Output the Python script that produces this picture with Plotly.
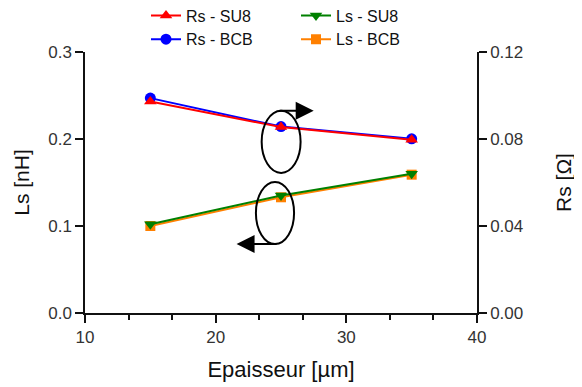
import plotly.graph_objects as go

thickness = [15, 25, 35]
rs_su8 = [0.0972, 0.0855, 0.0797]
rs_bcb = [0.0988, 0.0857, 0.0801]
ls_su8 = [0.102, 0.135, 0.160]
ls_bcb = [0.100, 0.133, 0.159]

x_ticks = [10, 20, 30, 40]
ls_ticks = [0.0, 0.1, 0.2, 0.3]
rs_ticks = [0.00, 0.04, 0.08, 0.12]

FONT = "Liberation Sans, Arial, sans-serif"

fig = go.Figure()
fig.add_trace(go.Scatter(x=thickness, y=rs_bcb, name="Rs - BCB", yaxis="y2",
                         mode="lines+markers", line=dict(color="#0000ff", width=2),
                         marker=dict(symbol="circle", size=11, color="#0000ff"),
                         legend="legend"))
fig.add_trace(go.Scatter(x=thickness, y=rs_su8, name="Rs - SU8", yaxis="y2",
                         mode="lines+markers", line=dict(color="#ff0000", width=2),
                         marker=dict(symbol="triangle-up", size=11, color="#ff0000"),
                         legend="legend"))
fig.add_trace(go.Scatter(x=thickness, y=ls_bcb, name="Ls - BCB",
                         mode="lines+markers", line=dict(color="#ff8000", width=2),
                         marker=dict(symbol="square", size=10, color="#ff8000"),
                         legend="legend2"))
fig.add_trace(go.Scatter(x=thickness, y=ls_su8, name="Ls - SU8",
                         mode="lines+markers", line=dict(color="#008000", width=2),
                         marker=dict(symbol="triangle-down", size=11, color="#008000"),
                         legend="legend2"))

# ellipses
fig.add_shape(type="circle", xref="x", yref="y", x0=23.52, x1=26.5, y0=0.161, y1=0.2325,
              line=dict(color="black", width=2))
fig.add_shape(type="circle", xref="x", yref="y", x0=23.08, x1=26.0, y0=0.0793, y1=0.1506,
              line=dict(color="black", width=2))

# arrows
fig.add_annotation(x=27.5, y=0.2325, ax=24.77, ay=0.2325, xref="x", yref="y",
                   axref="x", ayref="y", text="", showarrow=True, arrowhead=2,
                   arrowsize=1.8, arrowwidth=2, arrowcolor="black", standoff=0)
fig.add_annotation(x=21.6, y=0.0793, ax=24.77, ay=0.0793, xref="x", yref="y",
                   axref="x", ayref="y", text="", showarrow=True, arrowhead=2,
                   arrowsize=1.8, arrowwidth=2, arrowcolor="black", standoff=0)

axis_common = dict(showgrid=False, zeroline=False, showline=True, linecolor="#111",
                   linewidth=1.5, ticks="outside", tickcolor="#111", tickwidth=1.5,
                   ticklen=8, tickfont=dict(family=FONT, size=17, color="#333"))

fig.update_layout(
    width=582, height=387,
    margin=dict(l=77, r=113, t=44, b=82, autoexpand=False),
    paper_bgcolor="white", plot_bgcolor="white",
    font=dict(family=FONT, color="#111"),
    xaxis=dict(range=[10, 40], tickvals=x_ticks, ticktext=[str(v) for v in x_ticks],
               title=dict(text="Epaisseur [µm]", font=dict(family=FONT, size=22, color="#111"), standoff=15),
               minor=dict(dtick=10/3, tick0=10, ticks="outside", ticklen=5, tickwidth=1.5, tickcolor="#111"),
               **axis_common),
    yaxis=dict(range=[0, 0.3], tickvals=ls_ticks, ticktext=[f"{v:.1f}" for v in ls_ticks],
               title=dict(text="Ls [nH]", font=dict(family=FONT, size=21, color="#111"), standoff=13),
               **axis_common),
    yaxis2=dict(range=[0, 0.12], tickvals=rs_ticks, ticktext=[f"{v:.2f}" for v in rs_ticks],
                overlaying="y", side="right", anchor="x",
                title=dict(text="Rs [Ω]", font=dict(family=FONT, size=21, color="#111"), standoff=34),
                **axis_common),
    legend=dict(x=61/392, y=1.205, xanchor="left", yanchor="top",
                traceorder="reversed", font=dict(family=FONT, size=16, color="#111"),
                bgcolor="rgba(0,0,0,0)", tracegroupgap=0, itemwidth=30),
    legend2=dict(x=211/392, y=1.205, xanchor="left", yanchor="top",
                 traceorder="reversed", font=dict(family=FONT, size=16, color="#111"),
                 bgcolor="rgba(0,0,0,0)", tracegroupgap=0, itemwidth=30),
    showlegend=True,
)

fig.write_html("out.html")
